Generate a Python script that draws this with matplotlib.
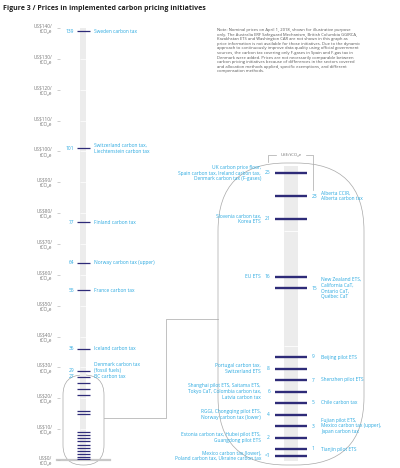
import matplotlib
matplotlib.use("Agg")
import matplotlib.pyplot as plt
from matplotlib.patches import FancyBboxPatch

# prices in US$/tCO2e, April 1 2018
top_values = [139, 101, 77, 64, 55, 36, 29, 27]
top_labels = ["Sweden carbon tax",
              "Switzerland carbon tax,\nLiechtenstein carbon tax",
              "Finland carbon tax",
              "Norway carbon tax (upper)",
              "France carbon tax",
              "Iceland carbon tax",
              "Denmark carbon tax\n(fossil fuels)",
              "BC carbon tax"]

# zoomed part (< US$26)
zoom_values = [25, 23, 21, 16, 15, 9, 8, 7, 6, 5, 4, 3, 2, 1, 0.4]
zoom_text = ["25", "23", "21", "16", "15", "9", "8", "7", "6", "5", "4", "3", "2", "1", "<1"]
zoom_labels = ["UK carbon price floor,\nSpain carbon tax, Ireland carbon tax,\nDenmark carbon tax (F-gases)",
               "Alberta CCIR,\nAlberta carbon tax",
               "Slovenia carbon tax,\nKorea ETS",
               "EU ETS",
               "New Zealand ETS,\nCalifornia CaT,\nOntario CaT,\nQuébec CaT",
               "Beijing pilot ETS",
               "Portugal carbon tax,\nSwitzerland ETS",
               "Shenzhen pilot ETS",
               "Shanghai pilot ETS, Saitama ETS,\nTokyo CaT, Colombia carbon tax,\nLatvia carbon tax",
               "Chile carbon tax",
               "RGGI, Chongqing pilot ETS,\nNorway carbon tax (lower)",
               "Fujian pilot ETS,\nMexico carbon tax (upper),\nJapan carbon tax",
               "Estonia carbon tax, Hubei pilot ETS,\nGuangdong pilot ETS",
               "Tianjin pilot ETS",
               "Mexico carbon tax (lower),\nPoland carbon tax, Ukraine carbon tax"]
zoom_side = ["L", "R", "L", "L", "R", "R", "L", "R", "L", "R", "L", "R", "L", "R", "L"]

y_ticks = list(range(0, 141, 10))

note = ("Note: Nominal prices on April 1, 2018, shown for illustrative purpose\n"
        "only. The Australia ERF Safeguard Mechanism, British Columbia GGIRCA,\n"
        "Kazakhstan ETS and Washington CAR are not shown in this graph as\n"
        "price information is not available for those initiatives. Due to the dynamic\n"
        "approach to continuously improve data quality using official government\n"
        "sources, the carbon tax covering only F-gases in Spain and F-gas tax in\n"
        "Denmark were added. Prices are not necessarily comparable between\n"
        "carbon pricing initiatives because of differences in the sectors covered\n"
        "and allocation methods applied, specific exemptions, and different\n"
        "compensation methods.")

plt.rcParams['font.family'] = ['Open Sans', 'DejaVu Sans']

BLUE = "#2aa9e0"
NAVY = "#2e2b78"
COL = "#ececec"
GREY = "#a8a8a8"
FS = 3.5
LS = 1.15
W, H = 400, 468

fig = plt.figure(figsize=(4, 4.68), dpi=100)


def px_axes(x0, y_top, x1, y_bot, **kw):
    # axes placed by pixel box (y from top)
    return fig.add_axes([x0 / W, 1 - y_bot / H, (x1 - x0) / W, (y_bot - y_top) / H], **kw)


# overlay for the zoom outlines
ov = px_axes(0, 0, W, H, zorder=0)
ov.set_xlim(0, W)
ov.set_ylim(H, 0)
ov.axis("off")
ov.add_patch(FancyBboxPatch((63, 375), 41, 90, boxstyle="round,pad=0,rounding_size=20",
                            fc="none", ec=GREY, lw=0.5))
ov.add_patch(FancyBboxPatch((218, 163), 146, 302, boxstyle="round,pad=0,rounding_size=68",
                            fc="none", ec=GREY, lw=0.5))
ov.plot([104, 166, 166, 218], [418, 418, 319, 319], color=GREY, lw=0.5)
ov.plot([57, 110], [460, 460], color="#c8c8c8", lw=1.6)
# unit bracket
ov.plot([268, 268, 276], [162, 155, 155], color=GREY, lw=0.5)
ov.plot([306, 313, 313], [155, 155, 190], color=GREY, lw=0.5)
ov.text(291, 155, "US$/tCO₂e", fontsize=3.2, color="#777777", ha="center", va="center")

# ---- full range column
ax = px_axes(60, 28, 200, 460, zorder=1)
ax.patch.set_alpha(0)
ax.set_xlim(60, 200)
ax.set_ylim(0, 140)
for s in ax.spines.values():
    s.set_visible(False)
ax.get_xaxis().set_visible(False)
ax.set_yticks(y_ticks)
ax.set_yticklabels(["US$%d/\ntCO₂e" % t for t in y_ticks])
ax.tick_params(axis="y", length=2.5, width=0.5, color="#bbbbbb", labelsize=3.4,
               labelcolor="#777777", pad=3)
for t in ax.get_yticklabels():
    t.set_linespacing(LS)
ax.bar(83, 140, width=6, bottom=0, color=COL, zorder=1)
ax.hlines(y_ticks[1:-1], 80, 86, color="white", lw=0.5, zorder=2)
ax.hlines(top_values + zoom_values, 77, 90, color=NAVY, lw=0.9, zorder=3)
for v, lab in zip(top_values, top_labels):
    ax.text(74, v, str(v), fontsize=FS, color=BLUE, ha="right", va="center")
    # the two-line Denmark label sits a little above its mark
    ty = v + 1.0 if v == 29 else v
    ax.text(94, ty, lab, fontsize=FS, color=BLUE, ha="left", va="center", linespacing=LS)

# ---- zoomed column
az = px_axes(200, 150, 400, 460.5, zorder=1)
az.patch.set_alpha(0)
az.set_xlim(200, 400)
az.set_ylim(0, 27)
az.axis("off")
az.bar(291, 25.9, width=14, bottom=-0.25, color=COL, zorder=1)
az.hlines([10, 20], 284, 298, color="white", lw=0.6, zorder=2)
az.hlines(zoom_values, 275, 307, color=NAVY, lw=1.7, zorder=3)
for v, t, lab, side in zip(zoom_values, zoom_text, zoom_labels, zoom_side):
    if side == "L":
        az.text(270, v, t, fontsize=FS, color=BLUE, ha="right", va="center")
        az.text(261, v, lab, fontsize=FS, color=BLUE, ha="right", va="center", linespacing=LS)
    else:
        az.text(312, v, t, fontsize=FS, color=BLUE, ha="left", va="center")
        az.text(321, v, lab, fontsize=FS, color=BLUE, ha="left", va="center", linespacing=LS)

fig.text(3 / W, 1 - 8.5 / H, "Figure 3 / Prices in implemented carbon pricing initiatives",
         fontsize=5.0, fontweight="bold", color="#222222", ha="left", va="center")
fig.text(217 / W, 1 - 28 / H, note, fontsize=3.0, color="#555555", ha="left", va="top",
         linespacing=1.2)

fig.savefig("out.png", dpi=100)
